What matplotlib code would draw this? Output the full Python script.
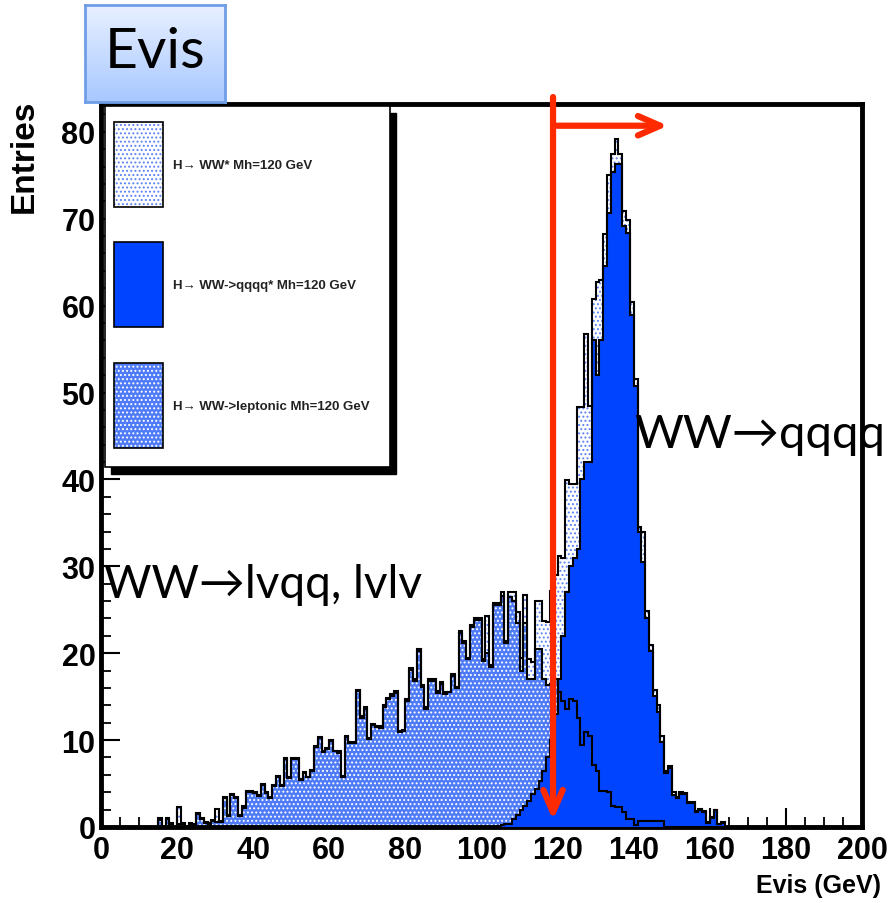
import numpy as np
import matplotlib.pyplot as plt
from matplotlib.patches import Rectangle
from matplotlib.ticker import MultipleLocator

plt.rcParams['hatch.linewidth'] = 0.9

# 1 GeV bins from 0 to 200
edges = np.arange(0, 201, 1)

# H -> WW -> leptonic (lvqq, lvlv), bins starting at 15 GeV
lep_start = 15
lep_vals = [0.8, 0.0, 0.9, 0.4, 0.0, 0.4, 0.4, 0.0, 0.4, 0.2,
            1.5, 0.9, 0.5, 0.4, 0.7, 0.6, 0.6, 3.3, 1.3, 3.7,
            3.3, 1.3, 2.2, 4.0, 4.0, 3.9, 3.6, 4.8, 3.9, 3.3,
            4.7, 5.8, 4.7, 7.8, 5.6, 7.8, 7.8, 5.4, 6.2,
            5.7, 6.5, 9.2, 10.2, 8.6, 9.0, 9.9, 8.7, 8.5, 5.8,
            10.3, 9.7, 9.7, 15.6, 12.6, 13.6, 10.1, 11.7, 11.5, 11.4,
            13.8, 14.7, 15.1, 15.4, 10.9, 11.2, 14.5, 18.1, 16.8, 20.3,
            16.1, 13.6, 16.8, 16.8, 15.4, 16.5, 15.3, 15.5, 17.4, 16.0,
            22.3, 21.2, 19.3, 23.0, 23.8, 23.8, 19.1, 20.0, 18.4, 25.5,
            25.6, 26.6, 21.2, 26.5, 26.0, 23.5, 18.0, 23.5, 17.0, 17.0,
            20.5, 20.5, 17.0, 16.3, 16.5, 17.0, 15.5, 14.5, 13.6, 14.7,
            14.5, 12.6, 9.4, 10.9, 10.5, 7.1, 6.4, 4.2, 4.2, 4.0,
            2.4, 2.3, 2.3, 1.7, 0.9, 0.9, 0.2, 0.7, 0.7, 0.7,
            0.7, 0.7, 0.7, 0.7]

# H -> WW -> qqqq, bins starting at 104 GeV
qqqq_start = 104
qqqq_vals = [0.1, 0.2, 0.3, 0.4, 0.9, 1.4, 2.0, 2.4, 3.0, 3.8,
             4.4, 5.3, 6.5, 8.0, 10.0, 13.0, 17.0, 22.0, 27.0, 30.0,
             31.0, 32.0, 40.0, 42.0, 42.0, 56.0, 52.0, 56.0, 64.6, 70.7,
             75.4, 76.3, 76.3, 69.2, 68.4, 58.9, 50.8, 33.9, 30.5, 24.1,
             20.2, 15.1, 13.2, 9.8, 6.2, 6.8, 3.7, 3.3, 3.8, 3.8,
             2.8, 2.8, 1.7, 2.0, 1.7, 0.5, 1.0, 1.9, 0.3,
             0.5]

# H -> WW* all decays, bins starting at 15 GeV
total_start = 15
total_vals = [1.0, 0.0, 1.0, 0.5, 0.0, 2.3, 0.5, 0.0, 0.5, 0.3,
              1.6, 1.0, 0.6, 0.5, 0.8, 2.1, 0.7, 3.4, 1.4, 3.8,
              3.4, 1.4, 2.4, 4.1, 4.1, 4.0, 3.7, 4.9, 4.0, 3.4,
              4.8, 5.9, 4.8, 7.9, 5.7, 7.9, 7.9, 5.5, 6.3,
              5.8, 6.6, 9.3, 10.3, 8.7, 9.1, 10.0, 8.8, 8.7, 5.9,
              10.5, 9.8, 9.8, 15.8, 12.8, 13.8, 10.2, 11.8, 11.6, 11.6,
              14.0, 14.9, 15.3, 15.6, 11.1, 11.1, 14.7, 18.3, 17.0, 20.5,
              16.3, 13.8, 17.0, 17.0, 15.6, 16.7, 15.5, 15.5, 17.6, 16.1,
              22.5, 21.4, 19.5, 23.2, 24.0, 24.0, 19.3, 24.3, 18.6, 25.8,
              25.8, 27.0, 21.4, 27.0, 27.0, 24.7, 19.5, 26.7, 19.3, 19.0,
              26.0, 26.0, 23.7, 23.6, 27.2, 29.0, 31.2, 31.0, 39.9, 39.5,
              39.5, 48.3, 48.3, 56.7, 48.5, 60.8, 62.7, 62.9, 68.2, 75.0,
              77.5, 79.2, 77.5, 70.9, 69.8, 60.4, 51.5, 34.5, 33.9, 24.8,
              21.0, 15.8, 14.0, 10.5, 6.5, 7.0, 4.0, 3.5, 4.0, 3.9,
              2.9, 2.9, 1.8, 2.1, 1.8, 0.6, 1.1, 2.0, 0.4,
              0.6]


def to_bins(start, vals):
    h = np.zeros(len(edges) - 1)
    h[start:start + len(vals)] = vals
    return h


lep = to_bins(lep_start, lep_vals)
qqqq = to_bins(qqqq_start, qqqq_vals)
total = to_bins(total_start, total_vals)

W, H = 894, 904
fig = plt.figure(figsize=(W / 100, H / 100), dpi=100)
ax = fig.add_axes([101 / W, 1 - 828 / H, 761 / W, 723 / H])

blue = '#0044ff'
total_style = dict(facecolor='white', edgecolor='#5b82f3', hatch='....')
lep_style = dict(facecolor='#4f7cf6', edgecolor='white', hatch='....')

ax.stairs(total, edges, fill=True, lw=0, zorder=1, **total_style)
ax.stairs(lep, edges, fill=True, lw=0, zorder=2, **lep_style)
ax.stairs(qqqq, edges, fill=True, facecolor=blue, lw=0, zorder=3)
ax.stairs(total, edges, color='black', lw=1.5, zorder=4)
ax.stairs(qqqq, edges, color='black', lw=1.5, zorder=4)
ax.stairs(lep, edges, color='black', lw=1.5, zorder=5)

ax.set_xlim(0, 200)
ax.set_ylim(0, 83.2)
ax.xaxis.set_major_locator(MultipleLocator(20))
ax.xaxis.set_minor_locator(MultipleLocator(5))
ax.yaxis.set_major_locator(MultipleLocator(10))
ax.yaxis.set_minor_locator(MultipleLocator(2))
ax.tick_params(which='major', direction='in', length=14, width=1.5, top=False, right=False)
ax.tick_params(which='minor', direction='in', length=7, width=1.3, top=False, right=False)
ax.tick_params(axis='x', pad=6)
ax.tick_params(axis='y', pad=4)
for lab in ax.get_xticklabels() + ax.get_yticklabels():
    lab.set_fontfamily('Liberation Sans')
    lab.set_fontweight('bold')
    lab.set_fontsize(22)
for s in ax.spines.values():
    s.set_linewidth(3.5)

fig.text(24 / W, 1 - 100 / H, 'Entries', rotation=90, ha='center', va='top',
         fontfamily='Liberation Sans', fontweight='bold', fontsize=24)
fig.text(881 / W, 1 - 886 / H, 'Evis (GeV)', ha='right', va='center',
         fontfamily='Liberation Sans', fontweight='bold', fontsize=18)

# legend box with shadow
tr = ax.transAxes
lx0, lw_ = 4 / 761, 285 / 761
ly0, lh = (828 - 468) / 723, 361 / 723
ax.add_patch(Rectangle((lx0 + 6 / 761, ly0 - 7 / 723), lw_, lh, transform=tr,
                       facecolor='black', edgecolor='black', zorder=9, clip_on=False))
ax.add_patch(Rectangle((lx0, ly0), lw_, lh, transform=tr, facecolor='white',
                       edgecolor='black', lw=1.2, zorder=10, clip_on=False))
entry_names = ['H→ WW* Mh=120 GeV', 'H→ WW->qqqq* Mh=120 GeV', 'H→ WW->leptonic Mh=120 GeV']
entry_styles = [total_style, dict(facecolor=blue, edgecolor=blue), lep_style]
entry_tops = [123, 243, 364]
for name, st, top in zip(entry_names, entry_styles, entry_tops):
    y0 = (828 - top - 85) / 723
    ax.add_patch(Rectangle((13 / 761, y0), 49 / 761, 85 / 723, transform=tr,
                           lw=0, zorder=11, clip_on=False, **st))
    ax.add_patch(Rectangle((13 / 761, y0), 49 / 761, 85 / 723, transform=tr,
                           facecolor='none', edgecolor='black', lw=1.2, zorder=12, clip_on=False))
    ax.text(72 / 761, y0 + 42 / 723, name, transform=tr, ha='left', va='center',
            fontfamily=['Liberation Sans', 'DejaVu Sans'], fontweight='bold',
            fontsize=9.5, color='#222222', zorder=12)

# cut arrows
red = '#ff2a00'
ax.annotate('', xy=(118.8, 0.8), xytext=(118.8, 84.0), annotation_clip=False,
            arrowprops=dict(arrowstyle='->,head_length=1.6,head_width=0.7', color=red, lw=4.5,
                            shrinkA=0, shrinkB=0), zorder=20)
ax.annotate('', xy=(149.0, 80.7), xytext=(119.8, 80.7), annotation_clip=False,
            arrowprops=dict(arrowstyle='->,head_length=1.6,head_width=0.7', color=red, lw=4.5,
                            shrinkA=0, shrinkB=0), zorder=20)

fig.text(634 / W, 1 - 435 / H, 'WW→qqqq', ha='left', va='center',
         fontfamily=['Lato', 'DejaVu Sans'], fontsize=34, zorder=30)
fig.text(104 / W, 1 - 585 / H, 'WW→lvqq, lvlv', ha='left', va='center',
         fontfamily=['Lato', 'DejaVu Sans'], fontsize=33, zorder=30)

# title box with gradient
tax = fig.add_axes([85 / W, 1 - 103 / H, 140 / W, 97 / H])
grad = np.linspace(0, 1, 100)[:, None]
top_c = np.array([232, 240, 255]) / 255
bot_c = np.array([168, 200, 255]) / 255
img = top_c[None, None, :] * (1 - grad[:, :, None]) + bot_c[None, None, :] * grad[:, :, None]
tax.imshow(np.repeat(img, 2, axis=1), aspect='auto', extent=(0, 1, 0, 1))
tax.set_xticks([])
tax.set_yticks([])
for s in tax.spines.values():
    s.set_color('#6f9ee6')
    s.set_linewidth(2)
tax.text(0.5, 0.52, 'Evis', ha='center', va='center', fontfamily='Lato', fontsize=41)

fig.savefig('out.png', dpi=100)
